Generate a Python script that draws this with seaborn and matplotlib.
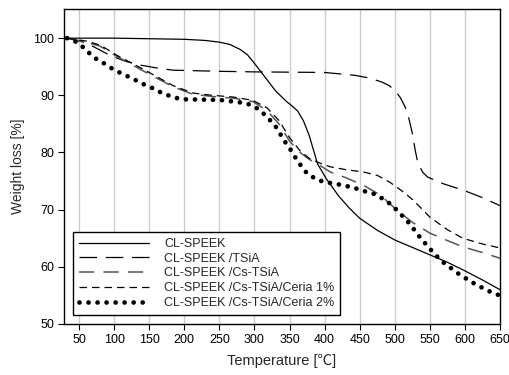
import matplotlib
matplotlib.use("Agg")
import matplotlib.pyplot as plt
import seaborn as sns
import pandas as pd

sns.set_theme(style="white")
plt.rcParams['font.family'] = ['Liberation Sans', 'DejaVu Sans']

labels = ["CL-SPEEK", "CL-SPEEK /TSiA", "CL-SPEEK /Cs-TSiA",
          "CL-SPEEK /Cs-TSiA/Ceria 1%", "CL-SPEEK /Cs-TSiA/Ceria 2%"]

t_speek = [33, 100, 150, 200, 230, 250, 265, 280, 290, 300, 315, 330, 345, 355, 362, 370, 378, 390, 403, 420, 435, 450, 475, 500, 525, 550, 575, 600, 625, 650]
w_speek = [100, 100, 99.9, 99.8, 99.6, 99.3, 98.9, 98.0, 97.1, 95.6, 93.2, 90.8, 89.0, 88.0, 87.2, 85.5, 83.0, 78.0, 75.3, 72.4, 70.3, 68.5, 66.4, 64.7, 63.4, 62.1, 60.8, 59.3, 57.7, 56.0]

t_tsia = [33, 60, 94, 115, 137, 160, 184, 250, 300, 400, 443, 465, 482, 492, 500, 508, 515, 520, 525, 529, 533, 540, 547, 560, 570, 600, 625, 650]
w_tsia = [100, 99.2, 97.0, 96.0, 95.3, 94.8, 94.4, 94.2, 94.1, 94.0, 93.5, 93.0, 92.3, 91.7, 90.9, 89.6, 87.9, 86.0, 83.4, 80.5, 78.1, 76.5, 75.7, 75.0, 74.5, 73.3, 72.1, 70.7]

t_cs = [33, 60, 80, 104, 141, 184, 212, 240, 270, 298, 318, 335, 350, 365, 378, 390, 408, 430, 455, 480, 503, 525, 550, 575, 597, 625, 650]
w_cs = [100, 99.3, 98.6, 96.8, 94.3, 91.5, 90.2, 89.8, 89.5, 88.9, 87.3, 85.0, 82.0, 80.0, 78.8, 78.0, 76.6, 75.6, 74.3, 72.5, 69.9, 67.8, 65.9, 64.6, 63.5, 62.5, 61.5]

t_c1 = [33, 60, 80, 104, 141, 184, 212, 240, 270, 298, 318, 335, 350, 365, 378, 390, 408, 430, 455, 475, 493, 510, 526, 550, 575, 597, 625, 650]
w_c1 = [100, 99.5, 98.8, 97.0, 94.6, 91.7, 90.4, 90.0, 89.7, 89.1, 87.8, 85.6, 82.6, 80.3, 79.0, 78.3, 77.5, 77.0, 76.6, 76.0, 74.8, 73.3, 71.7, 68.7, 66.5, 65.0, 64.0, 63.3]

t_c2 = [33, 47, 59, 70, 83, 94, 106, 118, 130, 141, 154, 165, 177, 190, 201, 250, 284, 296, 308, 318, 329, 336, 344, 352, 359, 368, 376, 389, 400, 412, 425, 436, 448, 460, 472, 483, 496, 507, 518, 527, 537, 547, 557, 569, 582, 593, 605, 617, 629, 640, 650]
w_c2 = [100, 99.3, 98.1, 96.7, 95.8, 94.9, 94.1, 93.4, 92.7, 92.0, 91.3, 90.6, 90.0, 89.5, 89.3, 89.2, 88.7, 88.3, 87.4, 86.2, 84.8, 83.4, 81.8, 80.4, 79.0, 77.4, 76.2, 75.3, 74.8, 74.6, 74.3, 74.0, 73.6, 73.1, 72.7, 71.9, 70.8, 69.4, 68.0, 66.6, 65.0, 63.6, 62.2, 60.8, 59.6, 58.6, 57.7, 56.8, 56.1, 55.4, 55.0]

x_ticks = list(range(50, 651, 50))
y_ticks = list(range(50, 101, 10))

fig = plt.figure(figsize=(5.1, 3.75), dpi=100)
ax = fig.add_axes([64/510, 51/375, 436/510, 315/375])

series = [
    (t_speek, w_speek, dict(color="black", lw=0.9, linestyle="-")),
    (t_tsia, w_tsia, dict(color="black", lw=0.9, linestyle=(0, (14, 7)))),
    (t_cs, w_cs, dict(color="#555555", lw=1.1, linestyle=(0, (10, 6)))),
    (t_c1, w_c1, dict(color="black", lw=0.9, linestyle=(0, (6, 4)))),
    (t_c2, w_c2, dict(color="black", lw=3.4, linestyle=(0, (0.01, 1.9)),
                      dash_capstyle="round")),
]
handles = []
for (tx, wy, kw), lab in zip(series, labels):
    df = pd.DataFrame({"T": tx, "W": wy})
    n_before = len(ax.lines)
    sns.lineplot(data=df, x="T", y="W", ax=ax, estimator=None, sort=False, label=lab, **kw)
    handles.append(ax.lines[n_before])

ax.set_xlim(28.6, 650)
ax.set_ylim(50, 105.1)
ax.set_xticks(x_ticks)
ax.set_yticks(y_ticks)
ax.tick_params(axis="both", labelsize=9, direction="out", length=4, width=0.8,
               bottom=True, left=True, colors="black", pad=3)
for xv in x_ticks[:-1]:
    ax.axvline(xv, color="#cccccc", lw=1.0, zorder=0)
for s in ax.spines.values():
    s.set_color("black")
    s.set_linewidth(1.0)
    s.set_visible(True)

ax.set_xlabel("Temperature [℃]", fontsize=10.5, labelpad=6,
              family=['Liberation Sans', 'Noto Sans CJK SC', 'DejaVu Sans'])
ax.set_ylabel("Weight loss [%]", fontsize=10, labelpad=6)

leg = ax.legend(handles=handles, labels=labels, loc="lower left",
                bbox_to_anchor=(0.02, 0.028), fontsize=9, frameon=True,
                fancybox=False, edgecolor="black", framealpha=1,
                handlelength=5.6, handletextpad=1.2, labelspacing=0.22,
                borderpad=0.5, borderaxespad=0)
leg.get_frame().set_linewidth(1.0)

fig.savefig("out.png", dpi=100)
